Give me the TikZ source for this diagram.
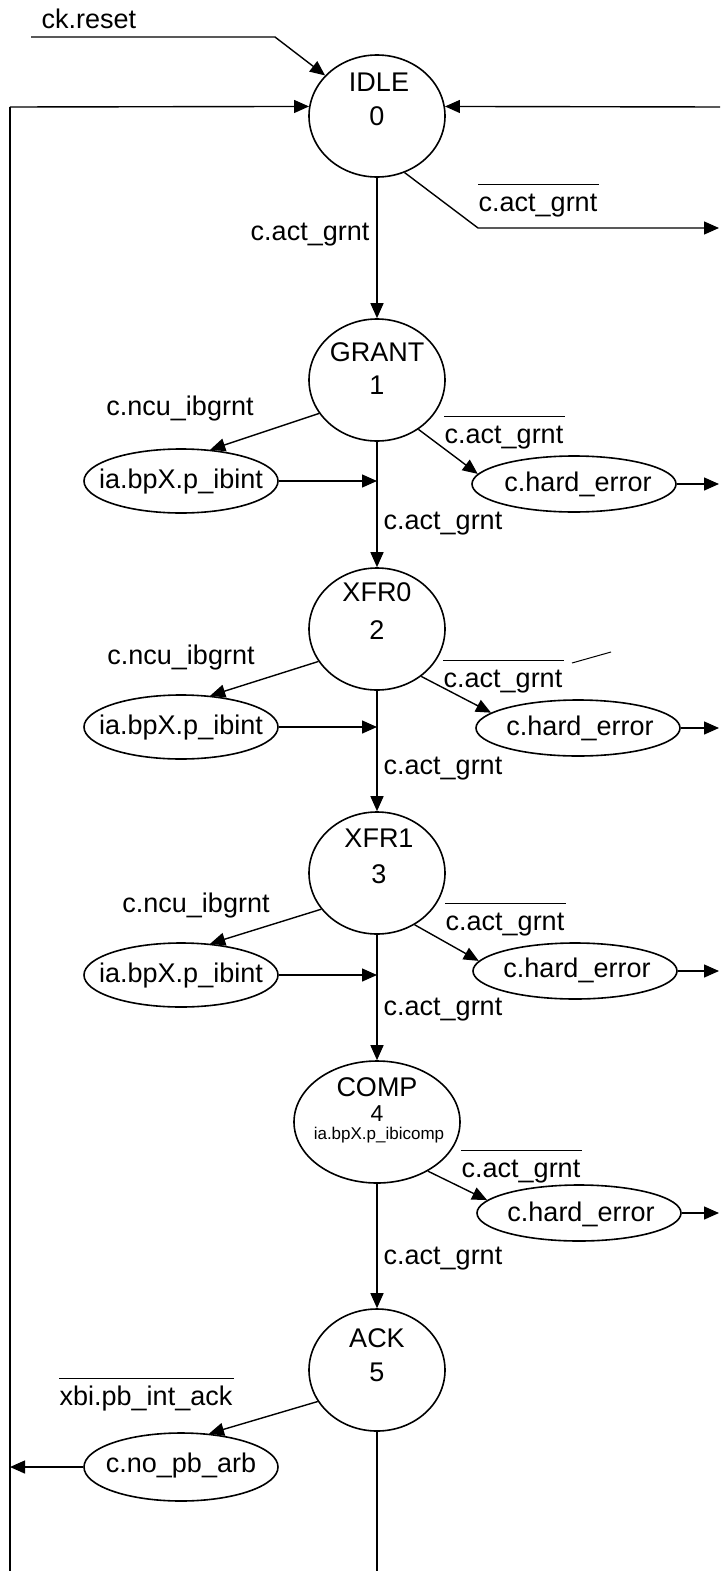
\documentclass[tikz,border=0pt]{standalone}
\usepackage{fontspec}
\setmainfont{Liberation Sans}
\usetikzlibrary{arrows.meta,shapes.geometric,calc}

\begin{document}
\begin{tikzpicture}[x=1pt,y=-1pt,
  line width=1.4pt,
  tip/.style={-{Triangle[length=15pt,width=13pt]}},
  state/.style={draw,ellipse,line width=1.6pt,minimum width=136pt,minimum height=122pt,inner sep=0pt},
  act/.style={draw,ellipse,line width=1.6pt,minimum width=194pt,minimum height=64pt,inner sep=0pt},
  err/.style={draw,ellipse,line width=1.6pt,minimum width=204pt,minimum height=56pt,inner sep=0pt},
  txt/.style={inner sep=0pt,font=\fontsize{27}{29}\selectfont,text height=19pt,text depth=5pt},
  stxt/.style={inner sep=0pt,anchor=base,font=\fontsize{27}{29}\selectfont},
  bar/.style={line width=1.2pt},
]
\useasboundingbox (0,0) rectangle (720,1571);

% frame coordinates for the feedback lines
\coordinate (L0) at (10,107);
\coordinate (L1) at (10,1571);
\coordinate (R0) at (720,107);
\coordinate (ck0) at (31,37);
\coordinate (ck1) at (275,37);
\coordinate (o0a) at (478,228);
\coordinate (o0b) at (719,228);
\coordinate (Rx) at (719,0);

% states
\node[state] (s0) at (377,116) {};
\node[stxt] (s0a) at (379,92) {IDLE};
\node[stxt] (s0b) at (377,125) {0};

\node[state] (s1) at (377,380) {};
\node[stxt] (s1a) at (377,361) {GRANT};
\node[stxt] (s1b) at (377,394) {1};

\node[state] (s2) at (377,629) {};
\node[stxt] (s2a) at (377,601) {XFR0};
\node[stxt] (s2b) at (377,639) {2};

\node[state] (s3) at (377,873) {};
\node[stxt] (s3a) at (379,847) {XFR1};
\node[stxt] (s3b) at (379,883) {3};

\node[state,minimum width=166pt] (s4) at (377,1122) {};
\node[stxt] (s4a) at (377,1096) {COMP};
\node[stxt,font=\fontsize{23}{25}\selectfont] (s4b) at (377,1121) {4};
\node[stxt,font=\fontsize{17}{19}\selectfont] (s4c) at (379,1139) {ia.bpX.p\_ibicomp};

\node[state] (s5) at (377,1370) {};
\node[stxt] (s5a) at (377,1347) {ACK};
\node[stxt] (s5b) at (377,1381) {5};

% action ellipses
\node[act] (a1) at (181,481) {};
\node[txt] (a1t) at (181,481) {ia.bpX.p\_ibint};
\node[act] (a2) at (181,727) {};
\node[txt] (a2t) at (181,727) {ia.bpX.p\_ibint};
\node[act] (a3) at (181,975) {};
\node[txt] (a3t) at (181,975) {ia.bpX.p\_ibint};
\node[act,minimum height=68pt] (n5) at (181,1467) {};
\node[txt] (n5t) at (181,1465) {c.no\_pb\_arb};

\node[err] (h1) at (574,484) {};
\node[txt] (h1t) at (578,484) {c.hard\_error};
\node[err] (h2) at (578,728) {};
\node[txt] (h2t) at (580,728) {c.hard\_error};
\node[err] (h3) at (575,971) {};
\node[txt] (h3t) at (577,970) {c.hard\_error};
\node[err] (h4) at (579,1213) {};
\node[txt] (h4t) at (581,1214) {c.hard\_error};

% transition labels
\node[txt,anchor=west] (ck) at (41,22) {ck.reset};
\node[txt,anchor=west] (b0) at (478,204) {c.act\_grnt};
\node[txt,anchor=east] (g0) at (370,233) {c.act\_grnt};

\node[txt] (c1) at (180,408) {c.ncu\_ibgrnt};
\node[txt,anchor=west] (b1) at (444,436) {c.act\_grnt};
\node[txt,anchor=west] (g1) at (383,522) {c.act\_grnt};

\node[txt] (c2) at (181,657) {c.ncu\_ibgrnt};
\node[txt,anchor=west] (b2) at (443,680) {c.act\_grnt};
\node[txt,anchor=west] (g2) at (383,767) {c.act\_grnt};

\node[txt] (c3) at (196,905) {c.ncu\_ibgrnt};
\node[txt,anchor=west] (b3) at (445,923) {c.act\_grnt};
\node[txt,anchor=west] (g3) at (383,1008) {c.act\_grnt};

\node[txt,anchor=west] (b4) at (461,1170) {c.act\_grnt};
\node[txt,anchor=west] (g4) at (383,1257) {c.act\_grnt};

\node[txt,anchor=west] (x5) at (59,1398) {xbi.pb\_int\_ack};

% negation bars
\foreach \b in {b0,b1,b2,b3,b4,x5}
  \draw[bar] ([yshift=7pt]\b.north west) -- ([yshift=7pt,xshift=1pt]\b.north east);
\draw[line width=1pt] (572,663) -- (611,652);

% reset and feedback lines into IDLE
\draw[tip] (ck0) -- (ck1) -- (s0.142);
\draw (L1) -- (L0);
\draw[tip] (L0) -- (s0.172);
\draw[tip] (R0) -- (s0.8);
\draw[tip] (s0.-64) -- (o0a) -- (o0b);

% main chain
\draw[tip] (s0.south) -- (s1.north);
\draw[tip] (s1.south) -- (s2.north);
\draw[tip] (s2.south) -- (s3.north);
\draw[tip] (s3.south) -- (s4.north);
\draw[tip] (s4.south) -- (s5.north);
\draw (s5.south) -- (s5.south |- L1);

% interrupt branches
\draw[tip] (s1.210) -- (a1.47);
\draw[tip] (a1.east) -- (a1.east -| s1.south);
\draw[tip] (s2.209) -- (a2.47);
\draw[tip] (a2.east) -- (a2.east -| s2.south);
\draw[tip] (s3.213) -- (a3.47);
\draw[tip] (a3.east) -- (a3.east -| s3.south);

% error branches
\draw[tip] (s1.-50) -- (h1.174);
\draw[tip] (h1.east) -- (h1.east -| Rx);
\draw[tip] (s2.-47) -- (h2.170);
\draw[tip] (h2.east) -- (h2.east -| Rx);
\draw[tip] (s3.-54) -- (h3.174);
\draw[tip] (h3.east) -- (h3.east -| Rx);
\draw[tip] (s4.-44) -- (h4.172);
\draw[tip] (h4.east) -- (h4.east -| Rx);

% acknowledge branch
\draw[tip] (s5.208) -- (n5.50);
\draw[tip] (n5.west) -- (n5.west -| L0);
\end{tikzpicture}
\end{document}
